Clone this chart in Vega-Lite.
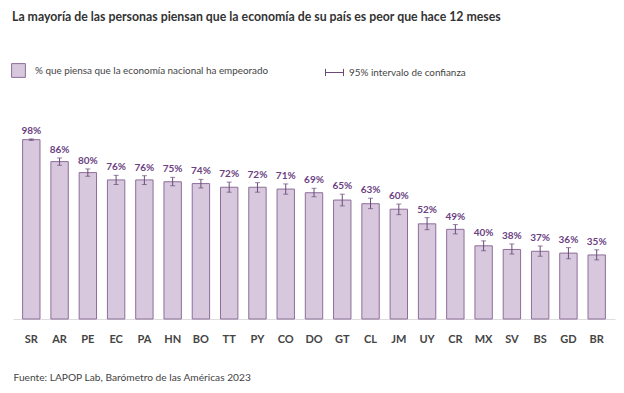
{
  "$schema": "https://vega.github.io/schema/vega-lite/v6.json",
  "autosize": {"type": "none"},
  "width": 602,
  "height": 183,
  "padding": {"left": 13, "top": 136, "right": 9, "bottom": 74},
  "background": "white",
  "config": {
    "font": "Lato",
    "view": {"stroke": null}
  },
  "title": {
    "text": "La mayoría de las personas piensan que la economía de su país es peor que hace 12 meses",
    "anchor": "start",
    "frame": "group",
    "offset": 40,
    "dx": -1,
    "fontSize": 12.3,
    "fontWeight": "bold",
    "color": "#333333",
    "font": "Lato"
  },
  "data": {
    "values": [
      {"pais": "SR", "v": 98, "lo": 97.6, "hi": 98.4, "label": "98%"},
      {"pais": "AR", "v": 86, "lo": 84.0, "hi": 88.0, "label": "86%"},
      {"pais": "PE", "v": 80, "lo": 78.0, "hi": 82.0, "label": "80%"},
      {"pais": "EC", "v": 76, "lo": 73.5, "hi": 78.5, "label": "76%"},
      {"pais": "PA", "v": 76, "lo": 73.5, "hi": 78.3, "label": "76%"},
      {"pais": "HN", "v": 75, "lo": 72.8, "hi": 77.4, "label": "75%"},
      {"pais": "BO", "v": 74, "lo": 71.6, "hi": 76.3, "label": "74%"},
      {"pais": "TT", "v": 72, "lo": 69.3, "hi": 74.8, "label": "72%"},
      {"pais": "PY", "v": 72, "lo": 69.3, "hi": 74.5, "label": "72%"},
      {"pais": "CO", "v": 71, "lo": 68.2, "hi": 73.8, "label": "71%"},
      {"pais": "DO", "v": 69, "lo": 66.8, "hi": 71.4, "label": "69%"},
      {"pais": "GT", "v": 65, "lo": 61.8, "hi": 68.2, "label": "65%"},
      {"pais": "CL", "v": 63, "lo": 60.3, "hi": 66.0, "label": "63%"},
      {"pais": "JM", "v": 60, "lo": 57.0, "hi": 62.8, "label": "60%"},
      {"pais": "UY", "v": 52, "lo": 48.8, "hi": 55.4, "label": "52%"},
      {"pais": "CR", "v": 49, "lo": 46.5, "hi": 51.6, "label": "49%"},
      {"pais": "MX", "v": 40, "lo": 37.3, "hi": 42.7, "label": "40%"},
      {"pais": "SV", "v": 38, "lo": 35.5, "hi": 41.0, "label": "38%"},
      {"pais": "BS", "v": 37, "lo": 34.3, "hi": 39.9, "label": "37%"},
      {"pais": "GD", "v": 36, "lo": 32.9, "hi": 39.0, "label": "36%"},
      {"pais": "BR", "v": 35, "lo": 32.3, "hi": 37.8, "label": "35%"}
    ]
  },
  "encoding": {
    "x": {
      "field": "pais",
      "type": "nominal",
      "sort": null,
      "scale": {"paddingInner": 0.385, "paddingOuter": 0.34},
      "axis": {
        "title": "Fuente: LAPOP Lab, Barómetro de las Américas 2023",
        "titleAnchor": "start",
        "titleAlign": "left",
        "titleX": 0,
        "titleY": 58,
        "titleBaseline": "middle",
        "titleFontSize": 10.2,
        "titleFontWeight": "normal",
        "titleColor": "#444444",
        "titleFont": "Lato",
        "labelAngle": 0,
        "labelFontSize": 11,
        "labelFontWeight": "bold",
        "labelColor": "#444444",
        "labelPadding": 14,
        "ticks": false,
        "domainColor": "#dddddd",
        "domainWidth": 1
      }
    }
  },
  "layer": [
    {
      "mark": {"type": "bar", "stroke": "#8d6e9a", "strokeWidth": 1},
      "encoding": {
        "y": {"field": "v", "type": "quantitative", "scale": {"domain": [0, 100]}, "axis": null},
        "color": {
          "datum": "% que piensa que la economía nacional ha empeorado",
          "type": "nominal",
          "scale": {"range": ["#d8c8dd"]},
          "legend": {
            "title": null,
            "orient": "none",
            "legendX": -2,
            "legendY": -73,
            "padding": 0,
            "symbolType": "square",
            "symbolSize": 190,
            "symbolStrokeColor": "#8d6e9a",
            "symbolStrokeWidth": 1,
            "labelFontSize": 9.9,
            "labelColor": "#444444",
            "labelOffset": 9,
            "labelLimit": 0,
            "labelFont": "Lato"
          }
        }
      }
    },
    {
      "mark": {"type": "rule", "strokeWidth": 1},
      "encoding": {
        "y": {"field": "lo", "type": "quantitative"},
        "y2": {"field": "hi"},
        "stroke": {
          "datum": "95% intervalo de confianza",
          "type": "nominal",
          "scale": {"range": ["#6b4a7a"]},
          "legend": {
            "title": null,
            "orient": "none",
            "legendX": 312,
            "legendY": -73,
            "padding": 0,
            "symbolType": "M-1,-0.4L-1,0.4M-1,0L1,0M1,-0.4L1,0.4",
            "symbolSize": 324,
            "symbolStrokeWidth": 1,
            "labelFontSize": 9.9,
            "labelColor": "#444444",
            "labelOffset": 5,
            "labelLimit": 0,
            "labelFont": "Lato"
          }
        }
      }
    },
    {
      "mark": {"type": "tick", "color": "#6b4a7a", "size": 5, "thickness": 1, "orient": "horizontal"},
      "encoding": {"y": {"field": "lo", "type": "quantitative"}}
    },
    {
      "mark": {"type": "tick", "color": "#6b4a7a", "size": 5, "thickness": 1, "orient": "horizontal"},
      "encoding": {"y": {"field": "hi", "type": "quantitative"}}
    },
    {
      "mark": {"type": "text", "fontSize": 10, "fontWeight": "bold", "color": "#6b3f82", "baseline": "middle", "dy": -8, "font": "Lato"},
      "encoding": {
        "y": {"field": "hi", "type": "quantitative"},
        "text": {"field": "label", "type": "nominal"}
      }
    }
  ]
}
